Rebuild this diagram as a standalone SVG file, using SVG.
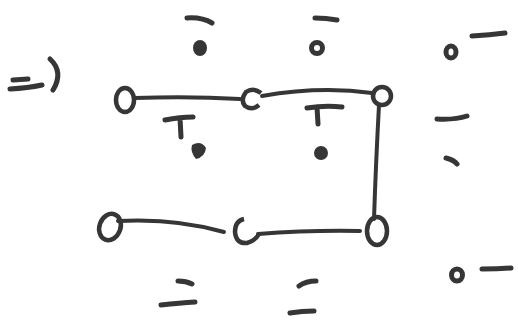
<svg xmlns="http://www.w3.org/2000/svg" width="518" height="327" viewBox="0 0 518 327">
<style>
.n{fill:none;stroke:#363636;stroke-width:4.5}
.e{fill:none;stroke:#363636;stroke-width:4;stroke-linecap:round}
.m{fill:none;stroke:#363636;stroke-width:5;stroke-linecap:round;stroke-linejoin:round}
.d{fill:#363636}
</style>
<rect width="518" height="327" fill="#fff"/>
<g id="marks">
<path class="m" d="M13 80 L28 79 M10 89 Q28 88 42 85"/>
<path class="m" d="M50 59 Q64 72 53 90"/>
<path class="m" d="M187 18 Q202 17 212 23"/>
<ellipse class="d" cx="200" cy="48" rx="7" ry="8"/>
<path class="m" d="M165 120 Q180 117 193 117 M180 118 L181 137"/>
<path class="d" d="M192 145 Q201 140 206 148 Q205 157 196 159 Q190 152 192 145 Z"/>
<path class="m" d="M315 18 Q326 18 337 20"/>
<circle cx="317" cy="48" r="5.5" fill="none" stroke="#363636" stroke-width="5"/>
<path class="m" d="M307 108 Q325 105 342 107 M317 107 L318 124"/>
<circle class="d" cx="321" cy="153" r="7"/>
<ellipse cx="451" cy="52" rx="5" ry="6" fill="none" stroke="#363636" stroke-width="5"/>
<path class="m" d="M472 36 Q490 35 505 33"/>
<path class="m" d="M437 119 Q455 120 467 116"/>
<path class="m" d="M446 158 Q454 160 457 164"/>
<path class="m" d="M178 281 Q186 281 192 284"/>
<path class="m" d="M161 305 Q180 303 195 302"/>
<path class="m" d="M299 286 Q306 281 316 281"/>
<path class="m" d="M290 313 Q302 311 314 311"/>
<ellipse cx="457" cy="275" rx="5.5" ry="6" fill="none" stroke="#363636" stroke-width="5"/>
<path class="m" d="M482 269 Q498 269 511 268"/>
</g>
<g id="connectors">
<path class="e" d="M135 98 Q190 96 240 99"/>
<path class="e" d="M262 96 Q320 86 372 93"/>
<path class="e" d="M379 105 Q376 160 374 219"/>
<path class="e" d="M118 221 Q175 218 224 232"/>
<path class="e" d="M258 234 Q310 230 360 231"/>
</g>
<g id="node-a"><ellipse class="n" cx="125" cy="100" rx="9" ry="12"/></g>
<g id="node-b"><path class="n" d="M261 93 Q253 87 246 92 Q240 100 245 106 Q252 111 259 105"/></g>
<g id="node-c"><circle class="n" cx="382" cy="96" r="9"/></g>
<g id="node-d"><ellipse class="n" cx="110" cy="227" rx="10.5" ry="13.5" transform="rotate(20 110 227)"/></g>
<g id="node-e"><path class="n" d="M244 219 Q235 221 235 232 Q236 244 247 243 Q255 241 259 234"/></g>
<g id="node-f"><ellipse class="n" cx="377" cy="231" rx="10" ry="14"/></g>
</svg>
